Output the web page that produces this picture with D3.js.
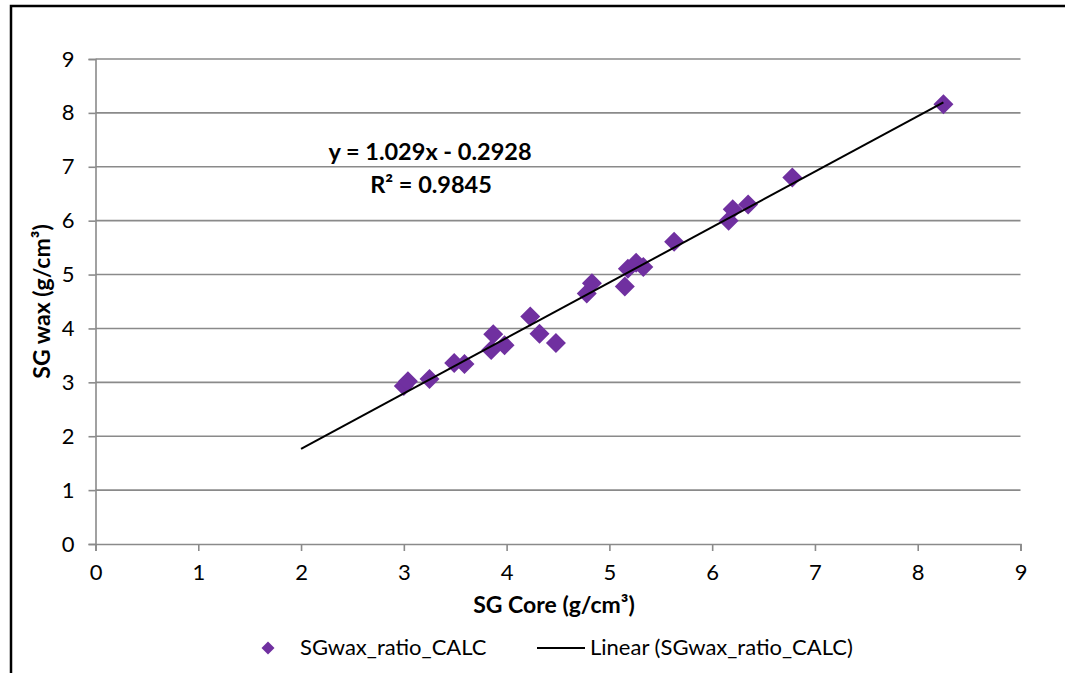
<!DOCTYPE html>
<html>
<head>
<meta charset="utf-8">
<script src="https://cdn.jsdelivr.net/npm/d3@7"></script>
<style>
  html, body { margin: 0; padding: 0; background: #fff; }
  svg { display: block; }
  text { font-family: Lato, "Open Sans", sans-serif; fill: #000; }
</style>
</head>
<body>
<script>
// Specific gravity: core measurement vs. wax-coated calculation
const coreSG = [3.00, 3.04, 3.25, 3.49, 3.59, 3.85, 3.87, 3.98, 4.23, 4.32, 4.48,
                4.78, 4.83, 5.15, 5.18, 5.26, 5.33, 5.63, 6.16, 6.20, 6.35, 6.78, 8.25];
const waxSG  = [2.93, 3.02, 3.06, 3.36, 3.34, 3.60, 3.89, 3.69, 4.22, 3.90, 3.73,
                4.65, 4.84, 4.78, 5.11, 5.22, 5.14, 5.61, 6.00, 6.21, 6.30, 6.80, 8.16];
const xTicks = [0, 1, 2, 3, 4, 5, 6, 7, 8, 9];
const yTicks = [0, 1, 2, 3, 4, 5, 6, 7, 8, 9];
const trendSlope = 1.029;
const trendIntercept = -0.2928;
const trendRange = [2.0, 8.25];
const rSquared = 0.9845;
const seriesName = "SGwax_ratio_CALC";

const W = 1065, H = 673;
const purple = "#7030A0";
const gridColor = "#8a8a8a";
const FONT = "Lato, 'Open Sans', sans-serif";

const svg = d3.select("body").append("svg").attr("width", W).attr("height", H);

// outer chart frame (continues past the right and bottom edges)
svg.append("path")
  .attr("d", `M11,${H + 5} L11,6 L${W + 5},6`)
  .attr("fill", "none").attr("stroke", "#000").attr("stroke-width", 2.5);

const x = d3.scaleLinear().domain([0, 9]).range([95.5, 1020.5]);
const y = d3.scaleLinear().domain([0, 9]).range([544, 59]);

// horizontal gridlines
svg.append("g").selectAll("line").data(yTicks.filter(d => d > 0)).join("line")
  .attr("x1", x(0)).attr("x2", x(9))
  .attr("y1", d => y(d)).attr("y2", d => y(d))
  .attr("stroke", gridColor).attr("stroke-width", 1.6);

// axes
const xAxis = svg.append("g").attr("transform", `translate(0,${y(0)})`)
  .call(d3.axisBottom(x).tickValues(xTicks).tickSize(7).tickPadding(13).tickFormat(d3.format("d")));
const yAxis = svg.append("g").attr("transform", `translate(${x(0)},0)`)
  .call(d3.axisLeft(y).tickValues(yTicks).tickSize(7).tickPadding(14).tickFormat(d3.format("d")));
[xAxis, yAxis].forEach(g => {
  g.attr("font-family", FONT).attr("font-size", 22);
  g.select(".domain").attr("stroke", gridColor).attr("stroke-width", 1.6);
  g.selectAll(".tick line").attr("stroke", gridColor).attr("stroke-width", 1.6);
  g.selectAll(".tick text").attr("fill", "#000");
});

// diamond marker path (rotated square)
const diamond = s => `M0,${-s} L${s},0 L0,${s} L${-s},0 Z`;

// data points
const pts = coreSG.map((c, i) => ({ c, w: waxSG[i] }));
svg.append("g").selectAll("path").data(pts).join("path")
  .attr("d", diamond(10))
  .attr("transform", d => `translate(${x(d.c)},${y(d.w)})`)
  .attr("fill", purple);

// linear trend line
const trendPts = trendRange.map(v => [v, trendSlope * v + trendIntercept]);
svg.append("path")
  .attr("d", d3.line().x(d => x(d[0])).y(d => y(d[1]))(trendPts))
  .attr("stroke", "#000").attr("stroke-width", 2).attr("fill", "none");

// equation label
const sign = trendIntercept < 0 ? "-" : "+";
svg.append("text").attr("x", 430).attr("y", 160).attr("text-anchor", "middle")
  .attr("font-size", 23.5).attr("font-weight", "bold")
  .text(`y = ${trendSlope}x ${sign} ${Math.abs(trendIntercept)}`);
svg.append("text").attr("x", 431).attr("y", 193).attr("text-anchor", "middle")
  .attr("font-size", 23.5).attr("font-weight", "bold")
  .text(`R² = ${rSquared}`);

// axis titles
svg.append("text").attr("x", 554).attr("y", 613).attr("text-anchor", "middle")
  .attr("font-size", 23).attr("font-weight", "bold").text("SG Core (g/cm³)");
svg.append("text").attr("transform", `translate(50,${(y(0) + y(9)) / 2}) rotate(-90)`)
  .attr("text-anchor", "middle").attr("font-size", 23).attr("font-weight", "bold")
  .text("SG wax (g/cm³)");

// legend
const lg = svg.append("g");
lg.append("path").attr("d", diamond(6.5)).attr("transform", "translate(268,648)").attr("fill", purple);
lg.append("text").attr("x", 300).attr("y", 655).attr("font-size", 22).text(seriesName);
lg.append("line").attr("x1", 537).attr("x2", 585).attr("y1", 648).attr("y2", 648)
  .attr("stroke", "#000").attr("stroke-width", 2);
lg.append("text").attr("x", 590).attr("y", 655).attr("font-size", 22).text(`Linear (${seriesName})`);
</script>
</body>
</html>
